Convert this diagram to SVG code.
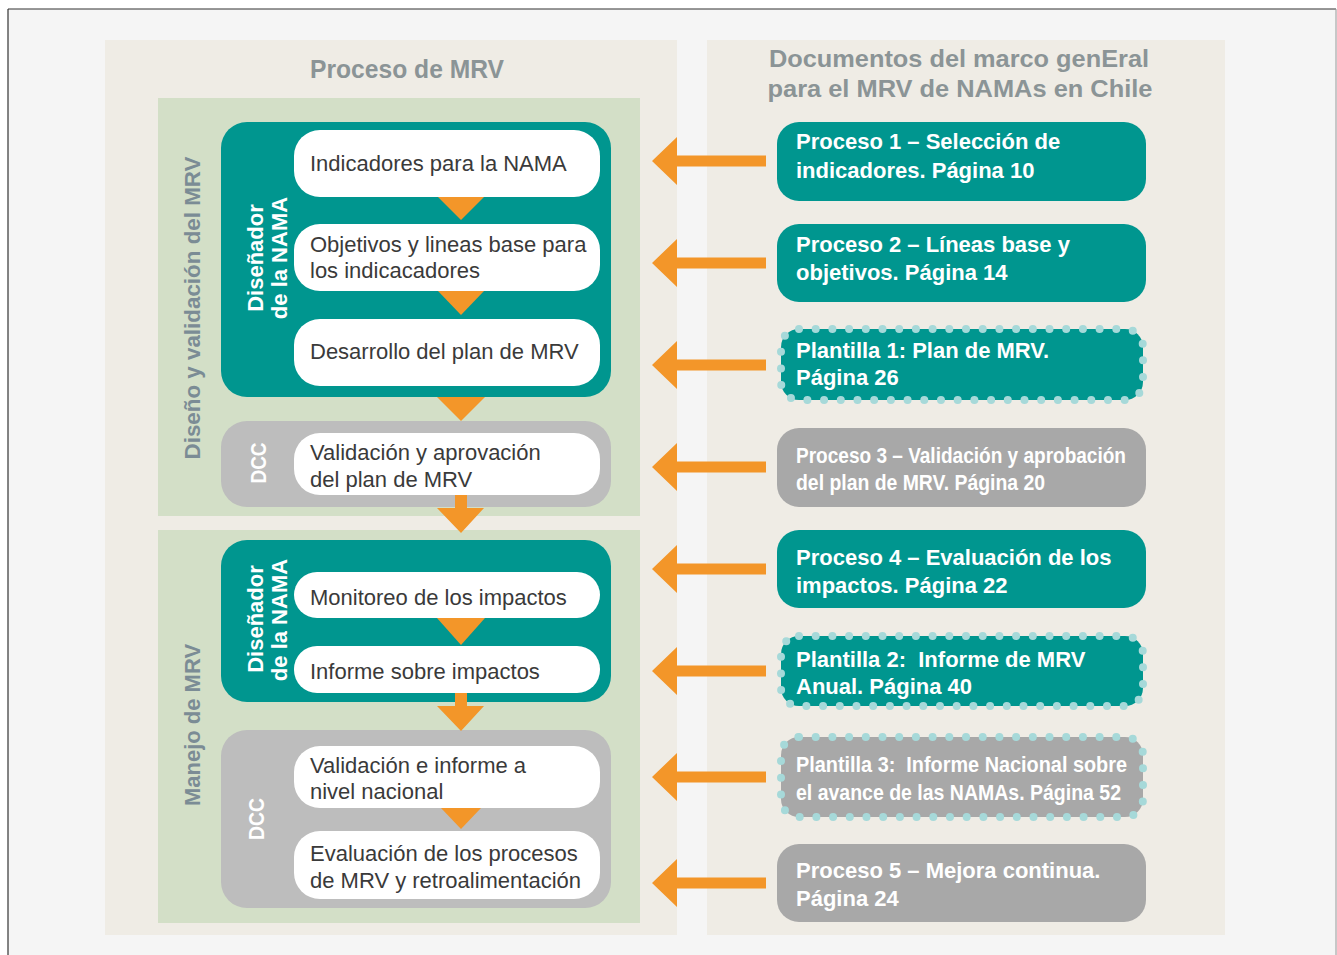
<svg xmlns="http://www.w3.org/2000/svg" width="1337" height="955" viewBox="0 0 1337 955">
<style>
.panel{fill:#efece5}
.sect{fill:#d3dfc7}
.teal{fill:#00968f}
.dcc{fill:#bdbdbd}
.wbox{fill:#ffffff}
.rgray{fill:#a8a8a8}
.dots{stroke:#a6d9d9;stroke-width:8;stroke-linecap:round;stroke-dasharray:0 16.7}
.arr{fill:#f39629}
.title{font-family:"Liberation Sans",Arial,sans-serif;font-weight:bold;fill:#8b9496;text-anchor:middle}
.side{font-family:"Liberation Sans",Arial,sans-serif;font-weight:bold;font-size:22px;fill:#7b8c95;text-anchor:middle}
.role{font-family:"Liberation Sans",Arial,sans-serif;font-weight:bold;font-size:22px;fill:#ffffff;text-anchor:middle}
.step{font-family:"Liberation Sans",Arial,sans-serif;font-size:22px;fill:#3a3a3a}
.doc{font-family:"Liberation Sans",Arial,sans-serif;font-weight:bold;font-size:22px;fill:#ffffff;white-space:pre}
</style>
<defs>
<path id="larrow" d="M0 0 L25 -24 L25 -5.5 L114 -5.5 L114 5.5 L25 5.5 L25 24 Z"/>
</defs>
<rect x="0" y="0" width="1337" height="955" fill="#ffffff"/>
<rect x="8" y="9" width="1340" height="960" fill="#f5f5f5"/>
<line x1="8" y1="9" x2="1336" y2="9" stroke="#333" stroke-width="1.2"/>
<line x1="8" y1="9" x2="8" y2="955" stroke="#333" stroke-width="1.2"/>
<line x1="1336" y1="9" x2="1336" y2="955" stroke="#999" stroke-width="1"/>

<g id="panel-left">
<rect class="panel" x="105" y="40" width="572" height="895"/>
<text class="title" x="407" y="78" font-size="25" textLength="194" lengthAdjust="spacingAndGlyphs">Proceso de MRV</text>
</g>
<g id="panel-right">
<rect class="panel" x="707" y="40" width="518" height="895"/>
<text class="title" x="959" y="67" font-size="24" textLength="380" lengthAdjust="spacingAndGlyphs">Documentos del marco genEral</text>
<text class="title" x="960" y="97" font-size="24" textLength="385" lengthAdjust="spacingAndGlyphs">para el MRV de NAMAs en Chile</text>
</g>

<g id="section-diseno">
<rect class="sect" x="158" y="98" width="482" height="418"/>
<text class="side" transform="translate(200 308) rotate(-90)" textLength="303" lengthAdjust="spacingAndGlyphs">Diseño y validación del MRV</text>
</g>
<g id="section-manejo">
<rect class="sect" x="158" y="530" width="482" height="393"/>
<text class="side" transform="translate(200 725) rotate(-90)">Manejo de MRV</text>
</g>

<g id="role-disenador-1">
<rect class="teal" x="221" y="122" width="390" height="275" rx="26"/>
<text class="role" transform="translate(263 258) rotate(-90)">Diseñador</text>
<text class="role" transform="translate(287 258) rotate(-90)">de la NAMA</text>
</g>
<g id="role-dcc-1">
<rect class="dcc" x="221" y="421" width="390" height="86" rx="26"/>
<text class="role" font-size="20" transform="translate(266 463) rotate(-90)" textLength="41" lengthAdjust="spacingAndGlyphs">DCC</text>
</g>
<g id="role-disenador-2">
<rect class="teal" x="221" y="540" width="390" height="162" rx="26"/>
<text class="role" transform="translate(263 619) rotate(-90)">Diseñador</text>
<text class="role" transform="translate(287 620) rotate(-90)">de la NAMA</text>
</g>
<g id="role-dcc-2">
<rect class="dcc" x="221" y="730" width="390" height="178" rx="26"/>
<text class="role" font-size="20" transform="translate(264 819) rotate(-90)" textLength="42" lengthAdjust="spacingAndGlyphs">DCC</text>
</g>

<g id="step-indicadores">
<rect class="wbox" x="294" y="130" width="306" height="67" rx="26"/>
<text class="step" x="310" y="171">Indicadores para la NAMA</text>
</g>
<g id="step-objetivos">
<rect class="wbox" x="294" y="224" width="306" height="67" rx="26"/>
<text class="step" x="310" y="252">Objetivos y lineas base para</text>
<text class="step" x="310" y="278">los indicacadores</text>
</g>
<g id="step-desarrollo">
<rect class="wbox" x="294" y="319" width="306" height="67" rx="26"/>
<text class="step" x="310" y="359">Desarrollo del plan de MRV</text>
</g>
<g id="step-validacion-plan">
<rect class="wbox" x="294" y="433" width="306" height="62" rx="26"/>
<text class="step" x="310" y="460">Validación y aprovación</text>
<text class="step" x="310" y="487">del plan de MRV</text>
</g>
<g id="step-monitoreo">
<rect class="wbox" x="294" y="572" width="306" height="46" rx="23"/>
<text class="step" x="310" y="605">Monitoreo de los impactos</text>
</g>
<g id="step-informe">
<rect class="wbox" x="294" y="646" width="306" height="47" rx="23"/>
<text class="step" x="310" y="679">Informe sobre impactos</text>
</g>
<g id="step-validacion-nacional">
<rect class="wbox" x="294" y="746" width="306" height="62" rx="26"/>
<text class="step" x="310" y="773">Validación e informe a</text>
<text class="step" x="310" y="799">nivel nacional</text>
</g>
<g id="step-evaluacion">
<rect class="wbox" x="294" y="831" width="306" height="68" rx="26"/>
<text class="step" x="310" y="861">Evaluación de los procesos</text>
<text class="step" x="310" y="888">de MRV y retroalimentación</text>
</g>

<g id="doc-proceso1">
<rect class="teal" x="777" y="122" width="369" height="79" rx="22"/>
<text class="doc" x="796" y="149">Proceso 1 – Selección de</text>
<text class="doc" x="796" y="178">indicadores. Página 10</text>
</g>
<g id="doc-proceso2">
<rect class="teal" x="777" y="224" width="369" height="78" rx="22"/>
<text class="doc" x="796" y="252">Proceso 2 – Líneas base y</text>
<text class="doc" x="796" y="280">objetivos. Página 14</text>
</g>
<g id="doc-plantilla1">
<rect class="teal dots" x="781" y="329" width="362" height="71" rx="18"/>
<text class="doc" x="796" y="358">Plantilla 1: Plan de MRV.</text>
<text class="doc" x="796" y="385">Página 26</text>
</g>
<g id="doc-proceso3">
<rect class="rgray" x="777" y="428" width="369" height="79" rx="22"/>
<text class="doc" x="796" y="463" textLength="330" lengthAdjust="spacingAndGlyphs">Proceso 3 – Validación y aprobación</text>
<text class="doc" x="796" y="490" textLength="249" lengthAdjust="spacingAndGlyphs">del plan de MRV. Página 20</text>
</g>
<g id="doc-proceso4">
<rect class="teal" x="777" y="530" width="369" height="78" rx="22"/>
<text class="doc" x="796" y="565">Proceso 4 – Evaluación de los</text>
<text class="doc" x="796" y="593">impactos. Página 22</text>
</g>
<g id="doc-plantilla2">
<rect class="teal dots" x="781" y="636" width="362" height="70" rx="18"/>
<text class="doc" x="796" y="667">Plantilla 2:  Informe de MRV</text>
<text class="doc" x="796" y="694">Anual. Página 40</text>
</g>
<g id="doc-plantilla3">
<rect class="rgray dots" x="781" y="737" width="362" height="80" rx="18"/>
<text class="doc" x="796" y="772" textLength="331" lengthAdjust="spacingAndGlyphs">Plantilla 3:  Informe Nacional sobre</text>
<text class="doc" x="796" y="800" textLength="325" lengthAdjust="spacingAndGlyphs">el avance de las NAMAs. Página 52</text>
</g>
<g id="doc-proceso5">
<rect class="rgray" x="777" y="844" width="369" height="78" rx="22"/>
<text class="doc" x="796" y="878">Proceso 5 – Mejora continua.</text>
<text class="doc" x="796" y="906">Página 24</text>
</g>

<g id="connectors">
<polygon class="arr" points="438,197 484,197 461,220"/>
<polygon class="arr" points="438,291 484,291 461,315"/>
<polygon class="arr" points="437,397 485,397 461,421"/>
<polygon class="arr" points="455,495 467,495 467,508 484,508 461,533 437,508 455,508"/>
<polygon class="arr" points="437,618 485,618 461,645"/>
<polygon class="arr" points="455,693 467,693 467,706 484,706 461,731 437,706 455,706"/>
<polygon class="arr" points="441,808 481,808 461,829"/>
<use href="#larrow" class="arr" x="652" y="161"/>
<use href="#larrow" class="arr" x="652" y="263"/>
<use href="#larrow" class="arr" x="652" y="365"/>
<use href="#larrow" class="arr" x="652" y="467"/>
<use href="#larrow" class="arr" x="652" y="569"/>
<use href="#larrow" class="arr" x="652" y="671"/>
<use href="#larrow" class="arr" x="652" y="777"/>
<use href="#larrow" class="arr" x="652" y="883"/>
</g>
</svg>
